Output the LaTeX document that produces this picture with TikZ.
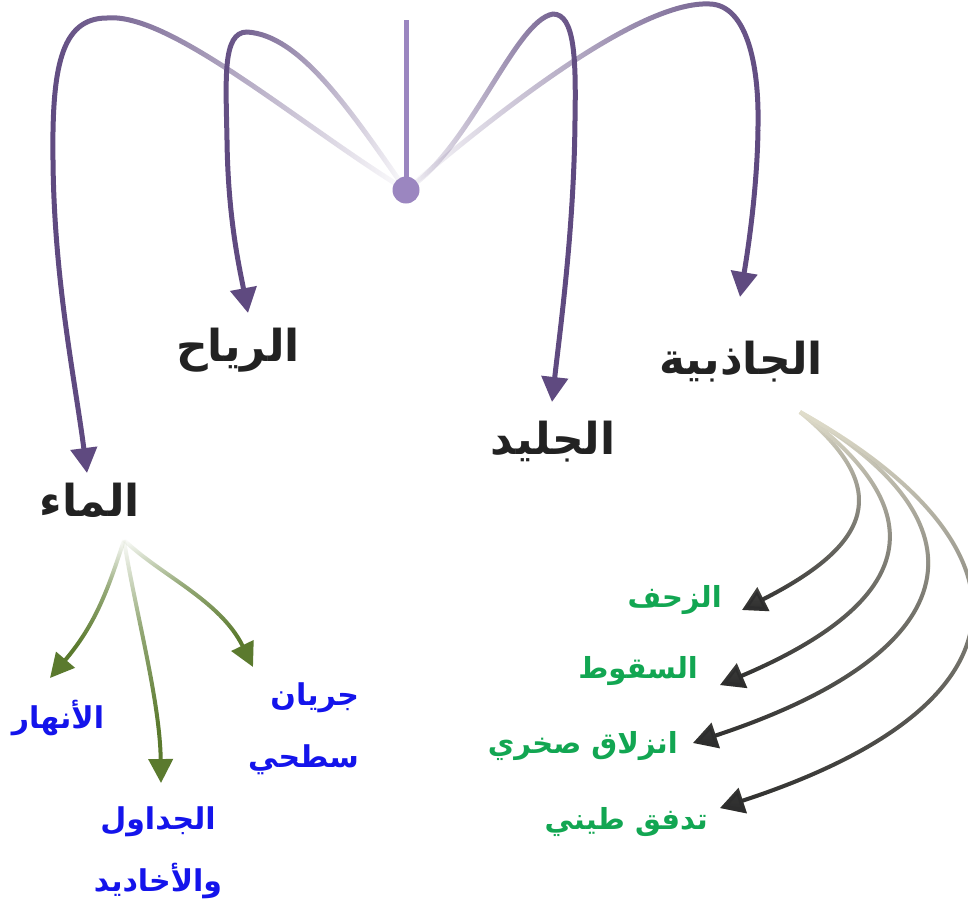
\documentclass[tikz,border=0pt]{standalone}
\usepackage{fontspec}
\usetikzlibrary{arrows.meta,fadings}
\newfontfamily\arabicfont[Script=Arabic]{DejaVu Sans}
\TeXXeTstate=1
\definecolor{erblack}{RGB}{34,34,34}
\definecolor{erpurple}{RGB}{95,74,128}
\definecolor{erlavender}{RGB}{155,134,192}
\definecolor{erolive}{RGB}{91,122,46}
\definecolor{erblue}{RGB}{20,20,235}
\definecolor{ergreen}{RGB}{18,166,82}
\definecolor{erbeige}{RGB}{226,223,205}
\definecolor{erdark}{RGB}{45,45,45}
\newcommand{\artxt}[1]{\beginR #1\endR}
\tikzfading[name=fade to right, left color=transparent!0, right color=transparent!100]
\tikzfading[name=fade to left, left color=transparent!100, right color=transparent!0]
\tikzfading[name=fade slope, top color=transparent!100, bottom color=transparent!0]
% the path box takes the middle half (25bp to 75bp) of the fading
\pgfdeclareverticalshading{fadetopshade}{100bp}{color(0bp)=(transparent!0); color(37bp)=(transparent!0);
  color(57bp)=(transparent!35); color(75bp)=(transparent!100); color(100bp)=(transparent!100)}
\pgfdeclarefading{fade to top}{\pgfuseshading{fadetopshade}}

\begin{document}
\begin{tikzpicture}[x=1pt,y=-1pt,
    main label/.style={font=\arabicfont\bfseries\fontsize{44}{50}\selectfont,text=erblack,inner sep=0pt},
    water label/.style={font=\arabicfont\bfseries\fontsize{30}{62}\selectfont,text=erblue,inner sep=0pt},
    slope label/.style={font=\arabicfont\bfseries\fontsize{29}{34}\selectfont,text=ergreen,inner sep=0pt},
    hub dot/.style={circle,fill=erlavender,minimum size=27pt,inner sep=0pt},
    main fade/.style={draw=erpurple,line width=5pt},
    main arrow/.style={draw=erpurple,line width=5pt,-{Triangle[length=25pt,width=26pt]}},
    water arrow/.style={draw=erolive,line width=4pt,-{Triangle[length=24pt,width=24pt]},path fading=fade to top},
    slope base/.style={draw=erbeige,line width=4pt,-{Triangle[length=24pt,width=26pt]}},
    slope arrow/.style={draw=erdark,line width=4pt,-{Triangle[length=24pt,width=26pt]},path fading=fade slope}]
  \useasboundingbox (0,0) rectangle (968,908);

  % agents
  \node[main label] (winds) at (238,350) {\artxt{الرياح}};
  \node[main label] (water) at (90,500) {\artxt{الماء}};
  \node[main label] (ice) at (553,442) {\artxt{الجليد}};
  \node[main label] (gravity) at (741,362) {\artxt{الجاذبية}};

  % water branches
  \node[water label,anchor=north] (rivers) at (58,700) {\artxt{الأنهار}};
  \node[water label,anchor=north,align=center] (streams) at (158,806) {\artxt{الجداول}\\\artxt{والأخاديد}};
  \node[water label,anchor=north west,align=right] (runoff) at (248,682) {\artxt{جريان}\\\artxt{سطحي}};

  % gravity branches
  \node[slope label,anchor=east] (creep) at (722,600) {\artxt{الزحف}};
  \node[slope label,anchor=east] (fall) at (698,671) {\artxt{السقوط}};
  \node[slope label,anchor=east] (rockslide) at (678,746) {\artxt{انزلاق صخري}};
  \node[slope label,anchor=east] (mudflow) at (708,822) {\artxt{تدفق طيني}};

  \coordinate (hub) at (406,190);
  \coordinate (stem top) at (406,20);
  \coordinate (water bend) at (53,160);
  \coordinate (winds bend) at (227,140);
  \coordinate (ice bend) at (575,120);
  \coordinate (gravity bend) at (758,130);
  \coordinate (water fork) at (124,540);
  \coordinate (gravity fork) at (800,412);
  \coordinate (creep tip) at ([shift={(20pt,-10pt)}]creep.east);
  \coordinate (fall tip) at ([shift={(22pt,-14pt)}]fall.east);
  \coordinate (rockslide tip) at ([shift={(15pt,3pt)}]rockslide.east);
  \coordinate (mudflow tip) at ([shift={(12pt,14pt)}]mudflow.east);

  % hub to agents
  \draw[main fade,path fading=fade to right] (hub) .. controls (300,125) and (170,12) .. (107,18)
    .. controls (60,18) and (52,70) .. (water bend);
  \draw[main arrow] (water bend) .. controls (54,280) and (75,380) .. ([shift={(-3pt,27pt)}]water.center);
  \draw[main fade,path fading=fade to right] (hub) .. controls (350,110) and (300,35) .. (247,32)
    .. controls (222,32) and (226,80) .. (winds bend);
  \draw[main arrow] (winds bend) .. controls (228,220) and (240,270) .. ([shift={(10pt,37pt)}]winds.center);
  \draw[main fade,path fading=fade to left] (hub) .. controls (470,150) and (515,20) .. (553,14)
    .. controls (575,14) and (576,60) .. (ice bend);
  \draw[main arrow] (ice bend) .. controls (574,230) and (560,330) .. ([shift={(-1pt,40pt)}]ice.center);
  \draw[main fade,path fading=fade to left] (hub) .. controls (500,110) and (640,0) .. (710,4)
    .. controls (745,5) and (760,60) .. (gravity bend);
  \draw[main arrow] (gravity bend) .. controls (757,190) and (748,250) .. ([shift={(-1pt,65pt)}]gravity.center);

  \draw[erlavender,line width=5pt] (hub) -- (stem top);
  \node[hub dot] (hub circle) at (hub) {};

  % water to its branches
  \draw[water arrow] (water fork) .. controls (108,590) and (95,625) .. ([shift={(-8pt,22pt)}]rivers.north);
  \draw[water arrow] (water fork) .. controls (135,610) and (160,700) .. ([shift={(3pt,23pt)}]streams.north);
  \draw[water arrow] (water fork) .. controls (160,575) and (220,600) .. ([shift={(5pt,15pt)}]runoff.north west);

  % gravity to its branches
  \foreach \cax/\cay/\cbx/\cby/\tip in {895/490/870/545/creep tip,935/510/920/600/fall tip,
      990/520/975/650/rockslide tip,1030/540/1050/700/mudflow tip}{
    \draw[slope base] (gravity fork) .. controls (\cax,\cay) and (\cbx,\cby) .. (\tip);
    \draw[slope arrow] (gravity fork) .. controls (\cax,\cay) and (\cbx,\cby) .. (\tip);
  }
\end{tikzpicture}
\end{document}
